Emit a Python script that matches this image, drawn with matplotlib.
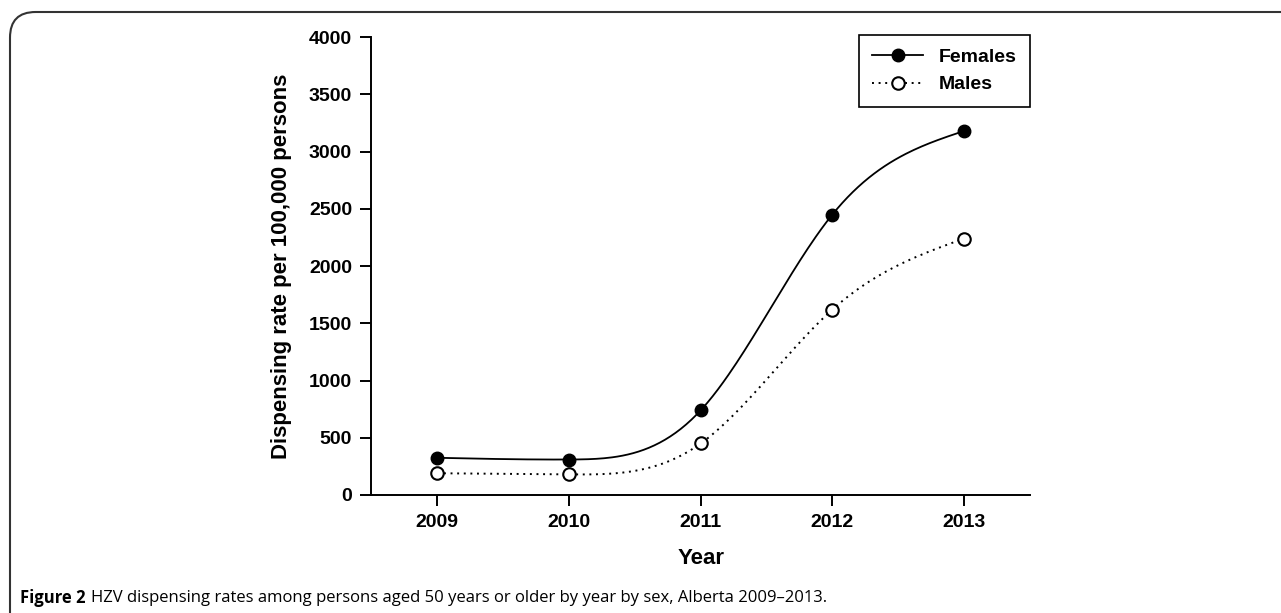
import matplotlib
matplotlib.use('Agg')
import matplotlib.pyplot as plt
from matplotlib.patches import FancyBboxPatch
import numpy as np

years = [2009, 2010, 2011, 2012, 2013]
females = [325, 310, 740, 2450, 3180]
males = [190, 180, 450, 1620, 2240]
yticks = [0, 500, 1000, 1500, 2000, 2500, 3000, 3500, 4000]


def spline(x, y, n=200):
    # natural cubic spline, only for drawing the smooth line
    x = np.asarray(x, float)
    y = np.asarray(y, float)
    k = len(x)
    h = np.diff(x)
    A = np.zeros((k, k))
    b = np.zeros(k)
    A[0, 0] = A[-1, -1] = 1
    for i in range(1, k - 1):
        A[i, i - 1] = h[i - 1]
        A[i, i] = 2 * (h[i - 1] + h[i])
        A[i, i + 1] = h[i]
        b[i] = 6 * ((y[i + 1] - y[i]) / h[i] - (y[i] - y[i - 1]) / h[i - 1])
    m = np.linalg.solve(A, b)
    xs = np.linspace(x[0], x[-1], n)
    idx = np.clip(np.searchsorted(x, xs) - 1, 0, k - 2)
    x0, x1 = x[idx], x[idx + 1]
    hh = x1 - x0
    t0, t1 = x1 - xs, xs - x0
    ys = (m[idx] * t0 ** 3 + m[idx + 1] * t1 ** 3) / (6 * hh) \
        + (y[idx] / hh - m[idx] * hh / 6) * t0 \
        + (y[idx + 1] / hh - m[idx + 1] * hh / 6) * t1
    return xs, ys


plt.rcParams['font.family'] = ['Liberation Sans', 'DejaVu Sans']

fig = plt.figure(figsize=(12.81, 6.13), dpi=100)
ax = fig.add_axes([0.290, 0.1925, 0.514, 0.747])

dots = (0, (1, 2.4))
fx, fy = spline(years, females)
mx, my = spline(years, males)
ax.plot(fx, fy, '-', color='black', lw=1.3)
ax.plot(mx, my, linestyle=dots, color='black', lw=1.4)
ax.plot(years, females, 'o', color='black', ms=9, zorder=3)
ax.plot(years, males, 'o', mfc='white', mec='black', mew=1.5, ms=9, zorder=3)

# legend handles
h1, = ax.plot([], [], '-o', color='black', lw=1.3, ms=9, label='Females')
h2, = ax.plot([], [], marker='o', linestyle=dots, color='black', lw=1.4, ms=9,
              mfc='white', mew=1.5, label='Males')
leg = ax.legend(handles=[h1, h2], loc='upper right', bbox_to_anchor=(1.0, 1.005),
                borderaxespad=0, fancybox=False,
                edgecolor='black', framealpha=1, prop={'weight': 'bold', 'size': 14},
                handlelength=2.6, borderpad=0.7, labelspacing=0.5, handletextpad=0.8)
leg.get_frame().set_linewidth(1.2)

ax.set_xlim(2008.5, 2013.5)
ax.set_ylim(0, 4000)
ax.set_xticks(years)
ax.set_yticks(yticks)
for s in ['top', 'right']:
    ax.spines[s].set_visible(False)
for s in ['left', 'bottom']:
    ax.spines[s].set_linewidth(1.4)
ax.tick_params(direction='out', length=8, width=1.4, labelsize=14, pad=6)
for lab in ax.get_xticklabels() + ax.get_yticklabels():
    lab.set_fontweight('bold')
ax.set_xlabel('Year', fontsize=16, fontweight='bold', labelpad=12)
ax.set_ylabel('Dispensing rate per 100,000 persons', fontsize=16, fontweight='bold', labelpad=12)

# panel frame, open at the right and bottom
frame = FancyBboxPatch((10 / 1281, -0.1), 1.2, 1.1 - 12 / 613,
                       boxstyle='round,pad=0,rounding_size=0.02',
                       transform=fig.transFigure, fill=False,
                       edgecolor='#333333', lw=1.5, mutation_aspect=1281 / 613)
fig.patches.append(frame)

fig.text(20 / 1281, 1 - 598 / 613, 'Figure 2', fontsize=12, fontweight='bold',
         family=['Open Sans', 'DejaVu Sans'], va='center')
fig.text(91 / 1281, 1 - 598 / 613,
         'HZV dispensing rates among persons aged 50 years or older by year by sex, Alberta 2009\u20132013.',
         fontsize=12, family=['Open Sans', 'DejaVu Sans'], va='center')

fig.savefig('out.png', dpi=100)
